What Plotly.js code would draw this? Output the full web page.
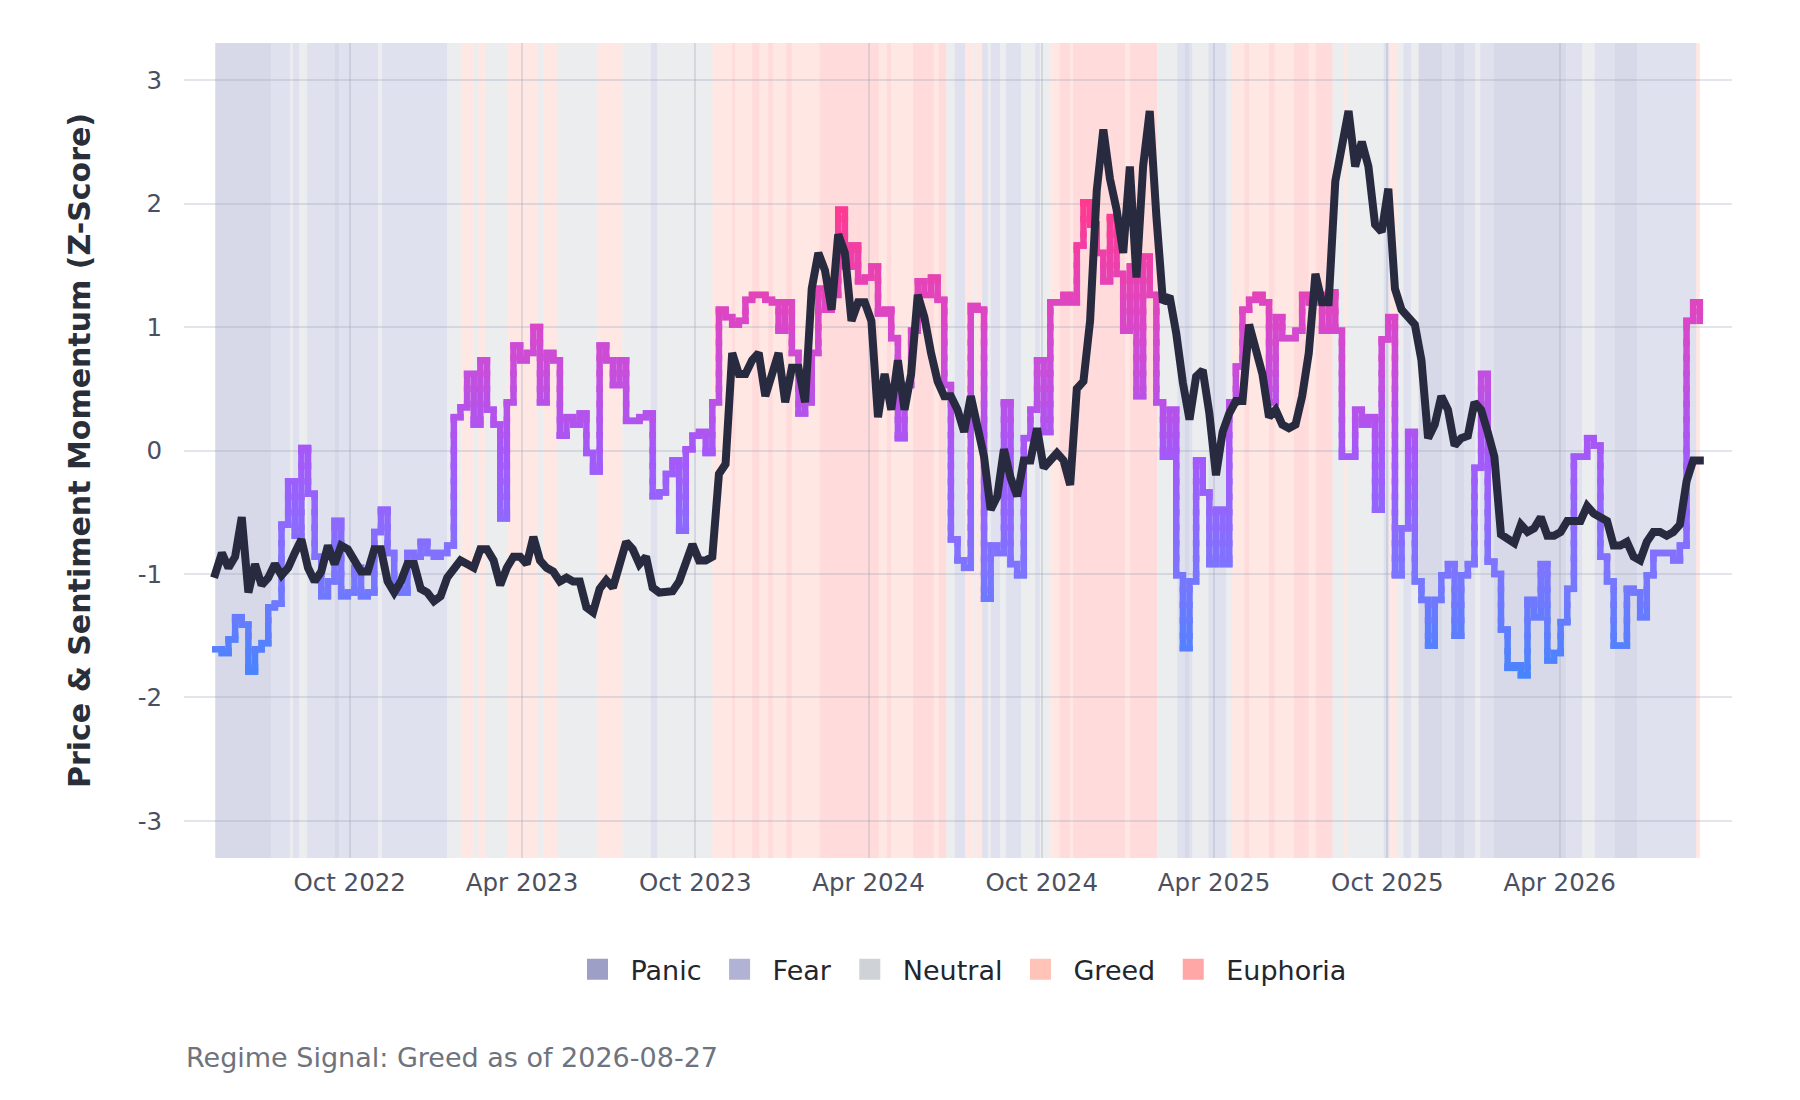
<!DOCTYPE html>
<html>
<head>
<meta charset="utf-8">
<script src="https://cdn.plot.ly/plotly-3.0.1.min.js"></script>
<style>
    html, body { margin: 0; padding: 0; background: #ffffff; }
    #graph { width: 1800px; height: 1100px; }
    #graph .js-line { stroke-linecap: square; }
</style>
</head>
<body>
<div id="graph"></div>
<script>
// weekly samples, first one on startDate
const startDate = '2022-05-12'
const stepDays = 7

const priceZ = [
    -1.00, -0.83, -0.95, -0.86, -0.54, -1.15, -0.92, -1.09, -1.03, -0.92,
    -1.01, -0.95, -0.83, -0.72, -0.95, -1.06, -0.98, -0.77, -0.92, -0.77,
    -0.80, -0.89, -0.98, -0.98, -0.80, -0.80, -1.06, -1.15, -1.06, -0.92,
    -0.92, -1.12, -1.15, -1.22, -1.18, -1.03, -0.95, -0.89, -0.92,
    -0.95, -0.80, -0.80, -0.89, -1.09, -0.95, -0.86, -0.86, -0.92, -0.70,
    -0.89, -0.95, -0.98, -1.06, -1.03, -1.06, -1.06, -1.27, -1.31, -1.12,
    -1.05, -1.11, -0.95, -0.74, -0.80, -0.92, -0.86, -1.11, -1.15, -1.15,
    -1.14, -1.06, -0.92, -0.76, -0.89, -0.89, -0.86, -0.19, -0.11,
    0.79, 0.62, 0.62, 0.73, 0.79, 0.44, 0.64, 0.79, 0.39, 0.67,
    0.67, 0.39, 1.31, 1.60, 1.46, 1.14, 1.75, 1.60, 1.05, 1.20,
    1.20, 1.05, 0.27, 0.62, 0.33, 0.73, 0.33, 0.62, 1.26, 1.08,
    0.79, 0.56, 0.44, 0.44, 0.33, 0.15, 0.44, 0.21, -0.05,
    -0.48, -0.37, 0.01, -0.22, -0.37, -0.08, -0.08, 0.18, -0.14, -0.08,
    -0.02, -0.08, -0.28, 0.50, 0.56, 1.05, 2.10, 2.60, 2.20, 1.95,
    1.60, 2.30, 1.40, 2.30, 2.75, 1.90, 1.20, 1.25, 0.95, 0.55,
    0.25, 0.60, 0.65, 0.30, -0.20, 0.15, 0.30, 0.40, 0.40,
    1.02, 0.79, 0.62, 0.27, 0.33, 0.21, 0.18, 0.21, 0.44, 0.79,
    1.43, 1.20, 1.20, 2.18, 2.50, 2.75, 2.30, 2.50, 2.30, 1.83,
    1.77, 2.12, 1.31, 1.14, 1.08, 1.02, 0.73, 0.10, 0.21, 0.44,
    0.33, 0.04, 0.10, 0.12, 0.39, 0.33, 0.15, -0.05, -0.68,
    -0.72, -0.75, -0.60, -0.66, -0.63, -0.54, -0.69, -0.69, -0.66, -0.57,
    -0.57, -0.57, -0.45, -0.51, -0.54, -0.57, -0.77, -0.77, -0.74, -0.86,
    -0.89, -0.74, -0.66, -0.66, -0.69, -0.66, -0.60, -0.25, -0.08, -0.08
]

const sentimentZ = [
    -1.61, -1.64, -1.53, -1.35, -1.41, -1.79, -1.61, -1.56, -1.27, -1.24,
    -0.60, -0.25, -0.69, 0.02, -0.35, -0.86, -1.18, -1.06, -0.57, -1.18,
    -1.15, -0.95, -1.18, -1.15, -0.66, -0.48, -0.83, -1.12, -1.15, -0.83,
    -0.86, -0.74, -0.83, -0.86, -0.83, -0.77, 0.27, 0.35, 0.62,
    0.21, 0.73, 0.33, 0.21, -0.55, 0.39, 0.85, 0.73, 0.79, 1.00,
    0.39, 0.79, 0.73, 0.12, 0.27, 0.21, 0.30, -0.02, -0.17, 0.85,
    0.73, 0.53, 0.73, 0.24, 0.24, 0.27, 0.30, -0.37, -0.34, -0.19,
    -0.08, -0.65, 0.01, 0.12, 0.15, -0.02, 0.39, 1.14, 1.08,
    1.02, 1.05, 1.22, 1.26, 1.26, 1.22, 1.20, 0.97, 1.20, 0.79,
    0.30, 0.39, 0.79, 1.31, 1.14, 1.26, 1.95, 1.49, 1.66, 1.37,
    1.40, 1.49, 1.11, 1.14, 0.91, 0.10, 0.53, 0.97, 1.37, 1.26,
    1.40, 1.22, 0.53, -0.72, -0.89, -0.95, 1.17, 1.14, -1.20,
    -0.77, -0.83, 0.39, -0.92, -1.01, 0.10, 0.33, 0.73, 0.15, 1.20,
    1.20, 1.26, 1.20, 1.66, 2.01, 1.83, 1.60, 1.37, 1.89, 1.43,
    0.97, 1.49, 0.44, 1.57, 1.26, 0.39, -0.05, 0.33, -1.01, -1.60,
    -1.06, -0.08, -0.34, -0.92, -0.48, -0.92, 0.39, 0.68, 1.14,
    1.22, 1.26, 1.20, 0.39, 1.08, 0.91, 0.91, 0.97, 1.26, 1.20,
    1.26, 0.97, 1.28, 0.97, -0.05, -0.05, 0.33, 0.21, 0.27, -0.48,
    0.90, 1.08, -1.01, -0.63, 0.15, -1.06, -1.21, -1.58, -1.21, -1.01,
    -0.92, -1.50, -1.01, -0.92, -0.14, 0.62, -0.90, -1.00, -1.45,
    -1.76, -1.74, -1.82, -1.21, -1.35, -0.92, -1.70, -1.64, -1.39, -1.12,
    -0.05, -0.05, 0.10, 0.04, -0.86, -1.06, -1.58, -1.58, -1.12, -1.15,
    -1.35, -1.01, -0.83, -0.83, -0.83, -0.89, -0.77, 1.05, 1.20, 1.05
]

// regime runs: each one lasts until the next start (the last until regimeEnd)
const regimeStart = [
    '2022-05-12', '2022-07-10', '2022-07-30', '2022-08-02', '2022-08-09', '2022-08-17', '2022-09-15', '2022-09-20', '2022-10-31', '2022-11-04',
    '2023-01-12', '2023-01-27', '2023-02-09', '2023-02-14', '2023-02-22', '2023-03-16', '2023-04-18', '2023-04-23', '2023-05-08', '2023-06-20',
    '2023-07-16', '2023-08-15', '2023-08-22', '2023-10-19', '2023-11-09', '2023-11-12', '2023-11-30', '2023-12-08', '2023-12-17', '2023-12-22',
    '2024-01-05', '2024-01-11', '2024-02-09', '2024-04-12', '2024-04-20', '2024-04-25', '2024-05-18', '2024-06-09', '2024-06-14', '2024-06-22',
    '2024-07-01', '2024-07-12', '2024-07-21', '2024-07-24', '2024-07-30', '2024-08-05', '2024-08-08', '2024-08-18', '2024-08-24', '2024-09-09',
    '2024-09-24', '2024-09-29', '2024-10-10', '2024-10-20', '2024-10-31', '2024-11-03', '2024-12-28', '2025-01-02', '2025-01-31', '2025-02-21',
    '2025-03-01', '2025-03-06', '2025-03-09', '2025-03-26', '2025-04-14', '2025-04-20', '2025-05-03', '2025-05-08', '2025-05-29', '2025-06-04',
    '2025-06-24', '2025-07-10', '2025-07-17', '2025-08-04', '2025-08-16', '2025-08-19', '2025-09-27', '2025-10-03', '2025-10-12', '2025-10-18',
    '2025-10-26', '2025-11-03', '2025-11-28', '2025-12-11', '2025-12-21', '2026-01-02', '2026-01-07', '2026-01-21', '2026-04-08', '2026-04-25',
    '2026-05-08', '2026-05-29', '2026-06-22', '2026-08-23'
]
const regimeName = [
    'Panic', 'Fear', 'Neutral', 'Fear', 'Neutral', 'Fear', 'Panic', 'Fear', 'Neutral', 'Fear',
    'Neutral', 'Greed', 'Neutral', 'Greed', 'Neutral', 'Greed', 'Neutral', 'Greed', 'Neutral', 'Greed',
    'Neutral', 'Fear', 'Neutral', 'Greed', 'Euphoria', 'Greed', 'Euphoria', 'Greed', 'Euphoria', 'Greed',
    'Euphoria', 'Greed', 'Euphoria', 'Greed', 'Euphoria', 'Greed', 'Euphoria', 'Greed', 'Euphoria', 'Neutral',
    'Fear', 'Greed', 'Neutral', 'Greed', 'Fear', 'Neutral', 'Fear', 'Neutral', 'Fear', 'Neutral',
    'Fear', 'Neutral', 'Greed', 'Euphoria', 'Greed', 'Euphoria', 'Greed', 'Euphoria', 'Neutral', 'Fear',
    'Panic', 'Fear', 'Neutral', 'Fear', 'Neutral', 'Greed', 'Euphoria', 'Greed', 'Euphoria', 'Greed',
    'Euphoria', 'Greed', 'Euphoria', 'Neutral', 'Greed', 'Neutral', 'Fear', 'Greed', 'Neutral', 'Fear',
    'Neutral', 'Panic', 'Fear', 'Panic', 'Fear', 'Neutral', 'Fear', 'Panic', 'Fear', 'Neutral',
    'Fear', 'Panic', 'Fear', 'Greed'
]
const regimeEnd = '2026-08-27'

const regimeOrder = ['Panic', 'Fear', 'Neutral', 'Greed', 'Euphoria']
const regimeColors = ['#9e9fc6', '#b2b3d4', '#cfd3d8', '#ffc3b8', '#ffa7a6']

const yTickVals = [-3, -2, -1, 0, 1, 2, 3]
const yTickText = ['-3', '-2', '-1', '0', '1', '2', '3']

// blue -> violet -> pink along the sentiment value
const sentStops = [
    [-2, [60, 135, 255]],
    [-1, [122, 118, 255]],
    [0, [165, 88, 250]],
    [1, [214, 72, 204]],
    [2, [255, 58, 145]]
]

function addDays(iso, n) {
    let d = new Date(iso + 'T00:00:00Z')
    d.setUTCDate(d.getUTCDate() + n)
    return d.toISOString().slice(0, 10)
}

function hexToRgba(hex, a) {
    let n = parseInt(hex.slice(1), 16)
    return 'rgba(' + (n >> 16) + ',' + ((n >> 8) & 255) + ',' + (n & 255) + ',' + a + ')'
}

function sentimentColor(v) {
    if (v <= sentStops[0][0]) return 'rgb(' + sentStops[0][1].join(',') + ')'
    for (let i = 1; i < sentStops.length; i++) {
        if (v <= sentStops[i][0]) {
            let a = sentStops[i - 1], b = sentStops[i]
            let t = (v - a[0]) / (b[0] - a[0])
            return 'rgb(' + a[1].map((c, j) => Math.round(c + t * (b[1][j] - c))).join(',') + ')'
        }
    }
    return 'rgb(' + sentStops[sentStops.length - 1][1].join(',') + ')'
}

const dates = priceZ.map((v, i) => addDays(startDate, i * stepDays))

// sentiment drawn as a stepped line split into colour bins
const nBins = 34
const binLo = -2.0
const binHi = 2.25
const binSize = (binHi - binLo) / nBins
const bins = Array.from({length: nBins}, () => ({x: [], y: []}))

function binOf(v) {
    return Math.max(0, Math.min(nBins - 1, Math.floor((v - binLo) / binSize)))
}

function pushSeg(x0, y0, x1, y1) {
    let b = bins[binOf((y0 + y1) / 2)]
    b.x.push(x0, x1, null)
    b.y.push(y0, y1, null)
}

for (let i = 0; i < sentimentZ.length - 1; i++) {
    let y0 = sentimentZ[i], y1 = sentimentZ[i + 1]
    pushSeg(dates[i], y0, dates[i + 1], y0)
    // vertical jump, cut at the bin edges so it keeps the gradient
    let lo = Math.min(y0, y1), hi = Math.max(y0, y1)
    let cuts = [lo]
    for (let k = 1; k < nBins; k++) {
        let edge = binLo + k * binSize
        if (edge > lo && edge < hi) cuts.push(edge)
    }
    cuts.push(hi)
    for (let k = 0; k < cuts.length - 1; k++) {
        pushSeg(dates[i + 1], cuts[k], dates[i + 1], cuts[k + 1])
    }
}

let data = []

regimeOrder.forEach((name, i) => {
    data.push({
        type: 'scatter',
        mode: 'markers',
        name: name,
        x: [null],
        y: [null],
        marker: {symbol: 'square', size: 16, color: regimeColors[i], line: {color: regimeColors[i], width: 5}},
        hoverinfo: 'skip'
    })
})

bins.forEach((b, i) => {
    if (!b.x.length) return
    data.push({
        type: 'scatter',
        mode: 'lines',
        x: b.x,
        y: b.y,
        showlegend: false,
        hoverinfo: 'skip',
        line: {color: sentimentColor(binLo + (i + 0.5) * binSize), width: 6.5}
    })
})

data.push({
    type: 'scatter',
    mode: 'lines',
    name: 'Price',
    x: dates,
    y: priceZ,
    showlegend: false,
    line: {color: '#282b40', width: 8}
})

let shapes = regimeStart.map((s, i) => ({
    type: 'rect',
    xref: 'x',
    yref: 'paper',
    x0: s,
    x1: i + 1 < regimeStart.length ? regimeStart[i + 1] : regimeEnd,
    y0: 0,
    y1: 1,
    fillcolor: hexToRgba(regimeColors[regimeOrder.indexOf(regimeName[i])], 0.4),
    line: {width: 0},
    layer: 'below'
}))

const gridColor = 'rgba(150,160,180,0.28)'

let layout = {
    width: 1800,
    height: 1100,
    margin: {l: 184, r: 68, t: 43, b: 242},
    paper_bgcolor: '#ffffff',
    plot_bgcolor: '#ffffff',
    font: {family: 'DejaVu Sans, sans-serif', color: '#4b5060'},
    hovermode: false,
    showlegend: true,
    legend: {
        orientation: 'h',
        x: 0.5,
        xanchor: 'center',
        y: -0.137,
        yanchor: 'middle',
        itemwidth: 56,
        font: {size: 27, color: '#23262d'}
    },
    xaxis: {
        type: 'date',
        range: ['2022-04-09', '2026-09-30'],
        tick0: '2022-10-01',
        dtick: 'M6',
        tickformat: '%b %Y',
        showgrid: true,
        gridcolor: gridColor,
        gridwidth: 2,
        zeroline: false,
        showline: false,
        ticks: 'outside',
        ticklen: 3,
        tickcolor: 'rgba(0,0,0,0)',
        tickfont: {size: 24.5, color: '#4b5060'}
    },
    yaxis: {
        range: [-3.3, 3.3],
        tickvals: yTickVals,
        ticktext: yTickText,
        showgrid: true,
        gridcolor: gridColor,
        gridwidth: 2,
        zeroline: false,
        showline: false,
        ticks: 'outside',
        ticklen: 16,
        tickcolor: 'rgba(0,0,0,0)',
        tickfont: {size: 24.5, color: '#4b5060'},
        title: {
            text: 'Price & Sentiment Momentum (Z-Score)',
            font: {size: 30, color: '#2a2e38', weight: 700},
            standoff: 38
        }
    },
    shapes: shapes,
    annotations: [{
        xref: 'paper',
        yref: 'paper',
        x: 0,
        xanchor: 'left',
        y: -0.245,
        yanchor: 'middle',
        showarrow: false,
        text: 'Regime Signal: ' + regimeName[regimeName.length - 1] + ' as of ' + regimeEnd,
        font: {size: 27, color: '#6e737d'}
    }]
}

Plotly.newPlot('graph', data, layout, {displayModeBar: false, responsive: false})
</script>
</body>
</html>
